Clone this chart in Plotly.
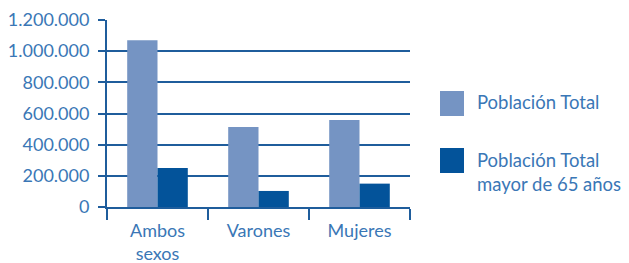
import plotly.graph_objects as go

categories = ["Ambos<br>sexos", "Varones", "Mujeres"]
poblacion_total = [1070000, 513000, 558000]
poblacion_65 = [250000, 103000, 150000]
series_names = ["Población Total", "Población Total<br>mayor de 65 años"]
y_ticks = [0, 200000, 400000, 600000, 800000, 1000000, 1200000]
grid_ticks = [0, 200000, 400000, 600000, 800000, 1000000]

W, H = 629, 263
L, R, T, B = 107, 219, 20, 56
LIGHT = "#7594c3"
DARK = "#03539a"
TXT = "#3a77b6"
LINE = "#1f5d9c"
FONT = "Lato"

fig = go.Figure()
fig.add_trace(go.Bar(x=categories, y=poblacion_total, name=series_names[0],
                     marker=dict(color=LIGHT, line=dict(width=0)), showlegend=False))
fig.add_trace(go.Bar(x=categories, y=poblacion_65, name=series_names[1],
                     marker=dict(color=DARK, line=dict(width=0)), showlegend=False))
# invisible helper so the grid axis renders
fig.add_trace(go.Scatter(x=[categories[0]], y=[grid_ticks[0]], yaxis="y2", mode="markers",
                         marker=dict(opacity=0), hoverinfo="skip", showlegend=False))

pw = W - L - R
ph = H - T - B
def px_x(x):
    return (x - L) / pw
def px_y(y):
    return (H - B - y) / ph

fig.update_layout(
    width=W, height=H,
    margin=dict(l=L, r=R, t=T, b=B, pad=0, autoexpand=False),
    paper_bgcolor="white", plot_bgcolor="white",
    separators=",.",
    barmode="group", bargap=0.4, bargroupgap=0,
    font=dict(family=FONT, size=18, color=TXT),
    xaxis=dict(range=[-0.5, 2.5], tickson="boundaries", ticks="outside", ticklen=11,
               tickwidth=2, tickcolor=LINE, showline=True, linecolor=LINE, linewidth=2,
               showgrid=False, zeroline=False, ticklabelstandoff=6,
               tickfont=dict(family=FONT, size=18, color=TXT)),
    yaxis=dict(range=[0, 1200000], tickvals=y_ticks, tickformat=",d", ticks="outside",
               ticklen=7, tickwidth=2, tickcolor=LINE, showline=True, linecolor=LINE,
               linewidth=2, showgrid=False, zeroline=False, ticklabelstandoff=5,
               tickfont=dict(family=FONT, size=18, color=TXT)),
    yaxis2=dict(range=[0, 1200000], overlaying="y", tickvals=grid_ticks,
                showticklabels=False, showgrid=True, gridcolor=LINE, gridwidth=2,
                showline=False, zeroline=False, ticks=""),
)

# manual legend
legend_items = [(LIGHT, series_names[0], 91, 102), (DARK, series_names[1], 148, 171.5)]
for color, name, sq_top, text_mid in legend_items:
    fig.add_shape(type="rect", xref="paper", yref="paper",
                  x0=px_x(440), x1=px_x(464), y0=px_y(sq_top + 25), y1=px_y(sq_top),
                  fillcolor=color, line=dict(width=0))
    fig.add_annotation(xref="paper", yref="paper", x=px_x(475), y=px_y(text_mid),
                       xanchor="left", yanchor="middle", text=name, showarrow=False,
                       align="left", font=dict(family=FONT, size=18.5, color=TXT))

fig.write_html("out.html", config={"displayModeBar": False},
               post_script="document.body.style.margin='0';document.body.style.overflow='hidden';")
